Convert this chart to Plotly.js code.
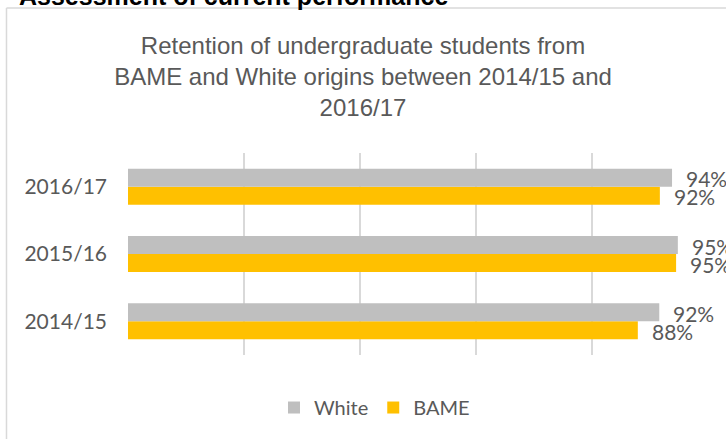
<!DOCTYPE html>
<html>
<head>
<meta charset="utf-8">
<script src="https://cdn.plot.ly/plotly-3.0.1.min.js"></script>
<style>
  html, body { margin: 0; padding: 0; background: #ffffff; }
  #chart { width: 726px; height: 439px; }
</style>
</head>
<body>
<div id="chart"></div>
<script>
// ---- data ----
const categories = ["2014/15", "2015/16", "2016/17"];
const whiteValues = [0.916, 0.948, 0.938];
const bameValues = [0.879, 0.945, 0.917];
const whiteLabels = ["92%", "95%", "94%"];
const bameLabels = ["88%", "95%", "92%"];
const seriesNames = ["White", "BAME"];
const chartTitle = "Retention of undergraduate students from<br>BAME and White origins between 2014/15 and<br>2016/17";
const heading = "Assessment of current performance";

const labelFont = "Lato, 'Noto Sans', sans-serif";
const grey = "#595959";

const traces = [
  {
    type: "bar", orientation: "h", name: seriesNames[1],
    y: categories, x: bameValues,
    marker: { color: "#FFC000" }, hoverinfo: "skip"
  },
  {
    type: "bar", orientation: "h", name: seriesNames[0],
    y: categories, x: whiteValues,
    marker: { color: "#BFBFBF" }, hoverinfo: "skip"
  }
];

const annotations = [];
categories.forEach((c, i) => {
  annotations.push({
    x: whiteValues[i], y: c, xref: "x", yref: "y",
    text: whiteLabels[i], showarrow: false,
    xanchor: "left", yanchor: "middle", xshift: 12, yshift: 8,
    font: { family: labelFont, size: 21, color: grey }
  });
  annotations.push({
    x: bameValues[i], y: c, xref: "x", yref: "y",
    text: bameLabels[i], showarrow: false,
    xanchor: "left", yanchor: "middle", xshift: 12, yshift: -10,
    font: { family: labelFont, size: 21, color: grey }
  });
});
annotations.push({
  xref: "paper", yref: "paper", x: -0.192, y: 1.70,
  xanchor: "left", yanchor: "bottom", showarrow: false,
  text: "<b>" + heading + "</b>",
  font: { family: "'Liberation Sans', Arial, sans-serif", size: 25, color: "#000000" }
});

const layout = {
  width: 726, height: 439,
  margin: { l: 128, r: 18, t: 153, b: 84 },
  paper_bgcolor: "#ffffff", plot_bgcolor: "#ffffff",
  title: {
    text: chartTitle,
    x: 0.5, xref: "container", xanchor: "center",
    y: 0.877, yref: "container", yanchor: "top",
    font: { family: "'Liberation Sans', Arial, sans-serif", size: 24, color: grey }
  },
  barmode: "group",
  bargap: 0.465,
  bargroupgap: 0,
  showlegend: true,
  legend: {
    orientation: "h", traceorder: "reversed",
    x: 0.425, xanchor: "center", y: -0.26, yanchor: "middle",
    font: { family: labelFont, size: 20, color: grey },
    itemwidth: 30
  },
  xaxis: {
    range: [0, 1], dtick: 0.2, tick0: 0,
    showgrid: true, gridcolor: "#D9D9D9", gridwidth: 1.5,
    zeroline: false, showticklabels: false, showline: false, ticks: "",
    fixedrange: true
  },
  yaxis: {
    type: "category", range: [-0.5, 2.5],
    showgrid: false, zeroline: false, showline: false, ticks: "",
    ticklabelstandoff: 20,
    tickfont: { family: labelFont, size: 21, color: grey },
    fixedrange: true
  },
  annotations: annotations,
  shapes: [
    { type: "line", xref: "paper", yref: "paper", x0: -0.2095, x1: 1.031, y0: 1.718, y1: 1.718,
      line: { color: "#D9D9D9", width: 1.5 } },
    { type: "line", xref: "paper", yref: "paper", x0: -0.2095, x1: -0.2095, y0: 1.718, y1: -0.45,
      line: { color: "#D9D9D9", width: 1.5 } }
  ]
};

Plotly.newPlot("chart", traces, layout, { displayModeBar: false, staticPlot: true });
</script>
</body>
</html>
